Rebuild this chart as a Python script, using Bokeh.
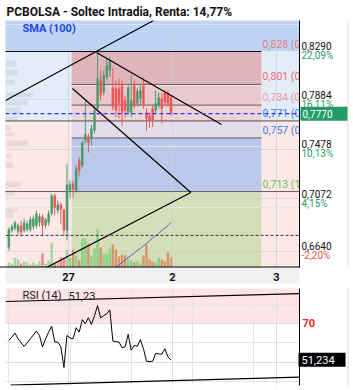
from bokeh.plotting import figure
from bokeh.models import Range1d, FixedTicker, Label, Grid, Span
from bokeh.layouts import column
from bokeh.embed import file_html
from bokeh.resources import INLINE
from bokeh.core.properties import value

# ---------------- data ----------------
title_text = "PCBOLSA - Soltec Intradia, Renta: 14,77%"
sma_text = "SMA (100)"
day_labels = ["27", "2", "3"]
day_starts = [19.5, 53.5, 87.5]          # session boundaries in candle-index units

opens = [0.6670, 0.6810, 0.6826, 0.6801, 0.6851, 0.6810, 0.6818, 0.6818, 0.6842, 0.6851,
         0.6875, 0.6925, 0.6851, 0.6875, 0.6949, 0.7097, 0.6974, 0.7023, 0.6982, 0.6810,
         0.7138, 0.7195, 0.7138, 0.7385, 0.7344, 0.7549, 0.7582, 0.7566, 0.7631, 0.7812,
         0.8042, 0.7943, 0.8066, 0.8124, 0.7984, 0.7976, 0.7976, 0.8001, 0.7878, 0.7779,
         0.7779, 0.8001, 0.7853, 0.7894, 0.8001, 0.7779, 0.7755, 0.7812, 0.7795, 0.7837,
         0.7894, 0.7943, 0.7943, 0.7903]
highs = [0.6834, 0.6859, 0.6892, 0.6867, 0.6892, 0.6908, 0.6892, 0.6925, 0.6933, 0.6974,
         0.6949, 0.6940, 0.6916, 0.6974, 0.7113, 0.7113, 0.7056, 0.7040, 0.6990, 0.7360,
         0.7220, 0.7220, 0.7344, 0.7409, 0.7549, 0.7878, 0.7607, 0.7680, 0.7828, 0.8272,
         0.8124, 0.8124, 0.8223, 0.8239, 0.8148, 0.8042, 0.8058, 0.8042, 0.7919, 0.8001,
         0.8083, 0.8042, 0.7984, 0.8017, 0.8066, 0.7812, 0.7779, 0.7837, 0.7960, 0.7943,
         0.7935, 0.7960, 0.7960, 0.7919]
lows = [0.6645, 0.6793, 0.6810, 0.6777, 0.6760, 0.6793, 0.6801, 0.6801, 0.6818, 0.6826,
        0.6842, 0.6768, 0.6826, 0.6851, 0.6933, 0.6933, 0.6949, 0.6867, 0.6768, 0.6728,
        0.7080, 0.7080, 0.7121, 0.7253, 0.7327, 0.7524, 0.7450, 0.7508, 0.7607, 0.7795,
        0.7878, 0.7919, 0.8042, 0.8075, 0.7795, 0.7738, 0.7730, 0.7671, 0.7738, 0.7763,
        0.7738, 0.7812, 0.7828, 0.7837, 0.7812, 0.7631, 0.7655, 0.7660, 0.7771, 0.7812,
        0.7689, 0.7837, 0.7828, 0.7755]
closes = [0.6818, 0.6842, 0.6875, 0.6851, 0.6793, 0.6875, 0.6867, 0.6900, 0.6908, 0.6949,
          0.6925, 0.6851, 0.6900, 0.6949, 0.7097, 0.6998, 0.7023, 0.6982, 0.6810, 0.7187,
          0.7187, 0.7146, 0.7319, 0.7303, 0.7533, 0.7598, 0.7533, 0.7648, 0.7795, 0.8058,
          0.7919, 0.8083, 0.8165, 0.8206, 0.7820, 0.7795, 0.7853, 0.7779, 0.7795, 0.7984,
          0.7878, 0.7837, 0.7960, 0.7960, 0.7837, 0.7730, 0.7713, 0.7713, 0.7853, 0.7903,
          0.7812, 0.7861, 0.7853, 0.7770]
volumes = [20, 16, 40, 32, 16, 24, 20, 12, 20, 12, 24, 57, 16, 28, 101, 16, 24, 40, 36, 73,
           40, 73, 49, 28, 117, 117, 97, 49, 77, 154, 81, 57, 57, 77, 93, 73, 45, 53, 49, 32,
           28, 20, 24, 16, 49, 93, 32, 24, 20, 40, 32, 24, 61, 40]
rsi = [61.3, 63.0, 65.0, 62.1, 60.0, 58.2, 60.0, 62.1, 64.0, 66.1, 63.8, 57.9, 62.0, 65.5,
       68.5, 60.4, 60.4, 57.9, 47.3, 63.8, 62.5, 62.1, 67.8, 65.5, 71.9, 69.8, 72.9, 69.5,
       74.0, 79.2, 72.9, 74.0, 75.0, 77.0, 60.9, 60.6, 60.4, 57.5, 57.9, 64.4, 56.2, 58.7,
       58.2, 61.6, 57.0, 50.5, 50.3, 50.5, 54.5, 54.3, 54.1, 57.0, 52.7, 51.23]
sma_idx = list(range(34, 54))
sma_vals = [0.6486, 0.6506, 0.6527, 0.6547, 0.6568, 0.6588, 0.6605, 0.6625, 0.6646, 0.6662,
            0.6683, 0.6703, 0.6728, 0.6748, 0.6765, 0.6785, 0.6810, 0.6830, 0.6851, 0.6876]

fib_levels = [0.828, 0.801, 0.784, 0.771, 0.757, 0.713]
fib_texts = ["0,828 (0,000)", "0,801 (0,236)", "0,784 (0,382)",
             "0,771 (0,500)", "0,757 (0,618)", "0,713 (1,000)"]

price_ticks = [0.8290, 0.7884, 0.7478, 0.7072, 0.6640]
price_tick_labels = ["0,8290", "0,7884", "0,7478", "0,7072", "0,6640"]
pct_labels = ["22,09%", "16,11%", "10,13%", "4,15%", "-2,20%"]
last_price = 0.7770
last_price_text = "0,7770"
prev_close = 0.677

prof_lo = [0.8149, 0.8083, 0.8009, 0.7902, 0.7837, 0.7771, 0.7705, 0.7631, 0.7582, 0.7500,
           0.7410, 0.7319, 0.7163, 0.7097, 0.6958, 0.6917]
prof_hi = [0.8206, 0.8132, 0.8050, 0.7944, 0.7878, 0.7820, 0.7746, 0.7672, 0.7615, 0.7549,
           0.7442, 0.7368, 0.7212, 0.7138, 0.6991, 0.6958]
prof_vol = [65, 85, 60, 180, 145, 100, 80, 35, 65, 150, 40, 50, 100, 55, 80, 50]

# drawn trend lines (candle index, price)
trend_x0 = [-1.1, 28.65, 20.8, 8.0]
trend_y0 = [0.7878, 0.8272, 0.7976, 0.6450]
trend_x1 = [47.3, 69.5, 59.5, 59.5]
trend_y1 = [0.8535, 0.7681, 0.7122, 0.7122]

rsi_title = "RSI (14)"
rsi_last_short = "51,23"
rsi_last = 51.234
rsi_last_text = "51,234"
rsi_upper = 70
rsi_mid = 50
rsi_tx0 = [-1.1, 0.54]
rsi_ty0 = [81.3, 38.2]
rsi_tx1 = [95.02, 95.02]
rsi_ty1 = [85.4, 42.3]

# ---------------- styling / geometry ----------------
FONT = "Roboto"
UP, DOWN = "#4e9a6c", "#ee5656"
VUP1, VDN1, VUP2, VDN2 = "#a6d3a3", "#f38585", "#8ccf87", "#d6966e"
fib_colors = ["#e57c84", "#f06b6b", "#f39a9a", "#3a7ee8", "#3a7ee8", "#66c447"]
fib_line_colors = ["#111111", "#6a5858", "#6a5858", "#554c4c", "#6a5858", "#6e5a5a"]
band_colors = ["#e1b3ba", "#ebc8cd", "#edd3d8", "#e3dcea", "#bac8eb"]
BELOW_FIB = "#d4dfba"
TOP_BAND = "#bed4f6"
SIDE_HI, SIDE_LO = "#e3edf9", "#fde8e8"
fib_x0, fib_x1 = 20.5, 82.6
BL, BR = -10, 200

W, H_TOP, H_RSI = 353, 287, 103
FRAME_W = W - 5                    # frame runs to the right edge; price column drawn inside
SLOT_PX = 104.0 / 34.0             # pixels per candle slot
X_START = -1.1
X_END = X_START + FRAME_W / SLOT_PX
X_AX = X_START + 294.0 / SLOT_PX   # position of the price-scale line
X_EDGE = X_START + 342.5 / SLOT_PX # outer chart border

idx = list(range(len(opens)))

xr = Range1d(X_START, X_END)
yr = Range1d(0.6506, 0.8535)
PX_Y = 247.0 / (yr.end - yr.start)  # pixels per price unit

p = figure(width=W, height=H_TOP, x_range=xr, y_range=yr, output_backend="svg",
           toolbar_location=None, tools="", y_axis_location=None,
           min_border_left=5, min_border_right=0, min_border_top=20, min_border_bottom=20,
           background_fill_color="white", border_fill_color="white", outline_line_color=None)
p.extra_y_ranges = {"vol": Range1d(0, 1000)}

p.title.text = title_text
p.title.text_font = FONT
p.title.text_font_size = "12px"
p.title.text_font_style = "bold"
p.title.text_color = "#111111"
p.title.standoff = 3
p.title.offset = 1
p.title.align = "left"


def band(fig, l, r, b, t, c, level="image"):
    fig.quad(left=[l], right=[r], bottom=[b], top=[t], fill_color=c, line_color=None, level=level)


# background zones
band(p, BL, BR, fib_levels[0], 1.0, TOP_BAND)
for (l, r_) in [(BL, fib_x0), (fib_x1, BR)]:
    band(p, l, r_, fib_levels[3], fib_levels[0], SIDE_HI)
    band(p, l, r_, 0.5, fib_levels[3], SIDE_LO)
for k in range(5):
    band(p, fib_x0, fib_x1, fib_levels[k + 1], fib_levels[k], band_colors[k])
band(p, fib_x0, fib_x1, 0.5, fib_levels[5], BELOW_FIB)

# volume profile
prof_scale = 20.0
p.quad(left=[BL] * len(prof_vol), right=[xr.start + v / prof_scale for v in prof_vol],
       bottom=prof_lo, top=prof_hi, fill_color="#8a9099", fill_alpha=0.16, line_color=None,
       level="underlay")

# grids
p.xgrid.ticker = FixedTicker(ticks=day_starts)
p.xgrid.grid_line_color = "#c9d1da"
p.xgrid.grid_line_alpha = 0.8
p.add_layout(Grid(dimension=1, ticker=FixedTicker(ticks=price_ticks),
                  grid_line_color="#c8c8c8", grid_line_alpha=0.5))

# fib lines
fx0 = [BL, fib_x0, fib_x0, BL, fib_x0, BL]
fx1 = [fib_x1, fib_x1, fib_x1, BR, fib_x1, BR]
p.segment(x0=fx0, y0=fib_levels, x1=fx1, y1=fib_levels, line_color=fib_line_colors, line_width=1)
p.text(x=[fib_x1] * len(fib_levels), y=fib_levels, text=fib_texts, text_color=fib_colors,
       text_font=value(FONT), text_font_size="10.5px", text_baseline="bottom",
       text_align="left", x_offset=1, y_offset=-1)

# volume
vcols = []
for i in idx:
    up = closes[i] >= opens[i]
    if i < 20:
        vcols.append(VUP1 if up else VDN1)
    else:
        vcols.append(VUP2 if up else VDN2)
p.vbar(x=idx, width=0.8, top=volumes, bottom=0, y_range_name="vol",
       fill_color=vcols, line_color=None)

# SMA
p.line(sma_idx, sma_vals, line_color="#5560d0", line_width=1)

# candles
ccols = [UP if c >= o else DOWN for o, c in zip(opens, closes)]
p.segment(x0=idx, y0=highs, x1=idx, y1=lows, line_color=ccols, line_width=1)
p.vbar(x=idx, width=0.8, top=closes, bottom=opens, fill_color=ccols, line_color=None)

# trend lines
p.segment(x0=trend_x0, y0=trend_y0, x1=trend_x1, y1=trend_y1, line_color="black", line_width=1.2)

# price lines
p.add_layout(Span(location=prev_close, dimension="width", line_color="#333333",
                  line_dash="3 2", line_width=1))
p.add_layout(Span(location=last_price, dimension="width", line_color="#1e3cff",
                  line_dash="4 3", line_width=1.3))

# ---- price scale column (right) ----
p.quad(left=[X_AX], right=[BR], bottom=[0.0], top=[2.0], fill_color="white",
       line_color=None, level="overlay")
p.segment(x0=[X_AX], y0=[yr.start], x1=[X_AX], y1=[yr.end], line_color="black",
          line_width=1, level="overlay")
p.segment(x0=[X_EDGE], y0=[yr.start], x1=[X_EDGE], y1=[yr.end], line_color="#dddddd",
          line_width=1, level="overlay")
p.segment(x0=[BL], y0=[yr.start + 0.5 / PX_Y], x1=[X_AX], y1=[yr.start + 0.5 / PX_Y],
          line_color="black", line_width=1, level="overlay")
p.text(x=[X_AX] * len(price_ticks), y=price_ticks, text=price_tick_labels,
       text_color="#111111", text_font=value(FONT), text_font_size="10px",
       text_baseline="middle", text_align="left", x_offset=2, y_offset=-4.7, level="overlay")
pct_colors = ["#f05050" if s.startswith("-") else "#2a9d6e" for s in pct_labels]
p.text(x=[X_AX] * len(price_ticks), y=price_ticks, text=pct_labels,
       text_color=pct_colors, text_font=value(FONT), text_font_size="10px",
       text_baseline="middle", text_align="left", x_offset=2, y_offset=4.7, level="overlay")
p.quad(left=[X_AX + 1.0 / SLOT_PX], right=[X_AX + 48.0 / SLOT_PX],
       bottom=[last_price - 7.0 / PX_Y], top=[last_price + 7.0 / PX_Y],
       fill_color="#239c69", line_color=None, level="overlay")
p.text(x=[X_AX], y=[last_price], text=[last_price_text], text_color="white",
       text_font=value(FONT), text_font_size="10px", text_baseline="middle",
       text_align="left", x_offset=3, level="overlay")

# bottom axis (day labels)
xa = p.xaxis[0]
xa.ticker = FixedTicker(ticks=day_starts)
xa.major_label_overrides = {d: s for d, s in zip(day_starts, day_labels)}
xa.major_tick_line_color = None
xa.minor_tick_line_color = None
xa.major_tick_out = 0
xa.major_tick_in = 0
xa.major_label_standoff = 5
xa.axis_line_color = None
xa.major_label_text_font = FONT
xa.major_label_text_font_size = "11px"
xa.major_label_text_font_style = "bold"
xa.major_label_text_color = "#111111"
try:
    xa.background_fill_color = "#f1f1f1"
except Exception:
    pass

p.add_layout(Label(x=17, y=239, x_units="screen", y_units="screen", text=sma_text,
                   text_font=FONT, text_font_size="11px", text_font_style="bold",
                   text_color="#2546e6", text_baseline="middle", text_align="left"))

# ---------------- RSI panel ----------------
ryr = Range1d(38, 88)
PX_R = 97.0 / (ryr.end - ryr.start)
r = figure(width=W, height=H_RSI, x_range=xr, y_range=ryr, output_backend="svg",
           toolbar_location=None, tools="", x_axis_location=None, y_axis_location=None,
           min_border_left=5, min_border_right=0, min_border_top=1, min_border_bottom=5,
           background_fill_color="white", border_fill_color="white", outline_line_color=None)
band(r, BL, BR, rsi_upper, 200, "#fde4e6")
r.add_layout(Grid(dimension=0, ticker=FixedTicker(ticks=day_starts),
                  grid_line_color="#d8dde3", grid_line_alpha=0.9))
r.add_layout(Grid(dimension=1, ticker=FixedTicker(ticks=[rsi_mid, rsi_upper]),
                  grid_line_color="#dcdcdc"))

r.segment(x0=rsi_tx0, y0=rsi_ty0, x1=rsi_tx1, y1=rsi_ty1, line_color="black", line_width=1.2)
r.line(idx, rsi, line_color="black", line_width=1)

r.quad(left=[X_AX], right=[BR], bottom=[0], top=[200], fill_color="white",
       line_color=None, level="overlay")
r.segment(x0=[X_AX], y0=[ryr.start], x1=[X_AX], y1=[ryr.end], line_color="black",
          line_width=1, level="overlay")
r.segment(x0=[X_EDGE], y0=[ryr.start], x1=[X_EDGE], y1=[ryr.end], line_color="#dddddd",
          line_width=1, level="overlay")
r.text(x=[X_AX], y=[rsi_upper], text=[str(rsi_upper)], text_color="#f02828",
       text_font=value(FONT), text_font_size="11px", text_font_style="bold",
       text_baseline="middle", text_align="left", x_offset=3, level="overlay")
r.quad(left=[X_AX - 1.0 / SLOT_PX], right=[X_AX + 46.0 / SLOT_PX],
       bottom=[rsi_last - 7.0 / PX_R], top=[rsi_last + 7.0 / PX_R],
       fill_color="black", line_color=None, level="overlay")
r.text(x=[X_AX], y=[rsi_last], text=[rsi_last_text], text_color="white",
       text_font=value(FONT), text_font_size="11px", text_baseline="middle",
       text_align="left", x_offset=2, level="overlay")

r.add_layout(Label(x=17, y=90, x_units="screen", y_units="screen", text=rsi_title,
                   text_font=FONT, text_font_size="11px", text_color="#222222",
                   text_baseline="middle", text_align="left"))
r.add_layout(Label(x=63, y=90, x_units="screen", y_units="screen", text=rsi_last_short,
                   text_font=FONT, text_font_size="11px", text_color="#222222",
                   text_baseline="middle", text_align="left"))

layout = column(p, r)
open("out.html", "w").write(file_html(layout, INLINE))
